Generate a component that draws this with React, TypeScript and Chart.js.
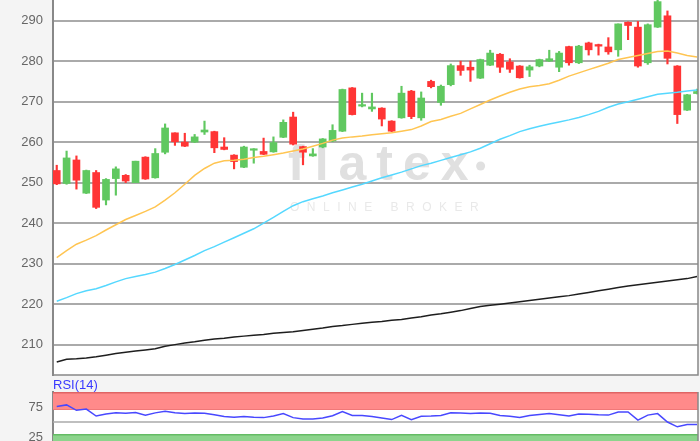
import React, { useEffect, useRef } from "react";
import { Chart, registerables } from "chart.js";

Chart.register(...registerables);

// ---- Data ----
const opens = [
  253.0, 249.8, 255.6, 247.4, 252.5, 245.7, 251.0, 251.8, 250.0, 256.3,
  251.2, 257.5, 262.3, 260.0, 260.0, 262.5, 262.6, 258.8, 256.8, 253.8,
  258.0, 257.7, 257.6, 261.2, 266.2, 258.9, 256.6, 258.8, 260.3, 262.7,
  273.4, 268.9, 268.2, 268.4, 265.2, 266.0, 272.6, 266.0, 275.0, 269.8,
  274.2, 278.9, 278.5, 275.8, 279.0, 281.7, 279.8, 278.8, 277.8, 278.8,
  280.0, 278.5, 283.6, 279.6, 284.5, 284.1, 283.5, 282.8, 289.6, 288.4,
  279.6, 288.4, 291.2, 278.8, 267.9, 272.0,
];
const highs = [
  254.3, 257.8, 256.6, 253.1, 253.0, 251.0, 253.9, 252.0, 255.3, 256.4,
  258.4, 264.5, 262.3, 262.2, 261.9, 265.2, 262.7, 261.1, 256.9, 259.0,
  258.4, 261.0, 261.3, 265.5, 267.4, 259.0, 258.4, 260.9, 264.3, 273.1,
  273.5, 272.1, 272.1, 268.5, 265.3, 273.8, 272.8, 272.4, 275.3, 274.1,
  279.3, 280.0, 280.0, 280.5, 282.7, 281.9, 280.6, 278.9, 279.0, 280.5,
  282.7, 282.4, 283.7, 283.9, 284.7, 284.2, 285.8, 289.2, 289.7, 289.8,
  289.2, 296.0, 292.4, 278.9, 271.8, 273.1,
];
const lows = [
  249.5, 249.6, 248.4, 247.3, 243.6, 244.5, 246.9, 250.0, 250.0, 250.8,
  251.1, 257.1, 259.2, 258.9, 259.9, 261.9, 257.4, 258.1, 253.4, 253.7,
  254.8, 256.9, 257.5, 261.1, 259.3, 254.4, 256.5, 258.6, 260.1, 262.6,
  266.7, 268.7, 267.6, 264.0, 262.6, 265.9, 265.8, 265.4, 273.4, 269.1,
  273.9, 276.5, 275.0, 275.7, 278.9, 277.2, 277.2, 275.8, 276.2, 278.6,
  279.9, 277.4, 279.0, 279.4, 281.5, 281.5, 281.7, 281.2, 285.3, 278.5,
  279.2, 288.3, 279.3, 264.6, 267.8, 271.9,
];
const closes = [
  249.7, 256.1, 250.6, 253.0, 243.9, 250.8, 253.4, 250.4, 255.3, 250.9,
  257.2, 263.5, 260.1, 259.0, 261.3, 263.0, 258.6, 258.2, 255.2, 258.8,
  258.3, 257.0, 259.9, 264.9, 259.5, 257.5, 257.1, 260.8, 262.9, 273.0,
  266.8, 269.2, 268.7, 265.7, 262.7, 272.1, 266.3, 270.9, 273.7, 273.8,
  278.9, 277.7, 277.8, 280.4, 282.0, 278.5, 278.0, 275.9, 278.6, 280.4,
  280.6, 282.0, 279.6, 283.7, 282.8, 283.7, 282.3, 289.2, 288.8, 278.8,
  289.0, 294.7, 280.7, 266.8, 271.7, 272.5,
];
const maShort = [
  231.5, 233.2, 234.8, 235.8, 236.9, 238.3, 239.6, 240.9, 241.9, 242.9,
  244.0, 245.7, 247.5, 249.6, 251.8, 253.5, 254.8, 255.4, 255.5, 255.8,
  256.2, 256.5, 256.9, 257.3, 257.8, 258.3, 259.0, 259.7, 260.5, 261.0,
  261.3, 261.5, 261.8, 262.1, 262.3, 262.7, 263.1, 264.0, 265.1, 265.6,
  266.4, 267.1, 268.2, 269.3, 270.4, 271.4, 272.3, 273.1, 273.7, 274.0,
  274.4, 275.3, 276.3, 277.1, 277.9, 278.7, 279.5, 280.4, 280.9, 281.4,
  281.9, 282.4, 282.5, 282.0, 281.4, 281.0,
];
const maMid = [
  220.7, 221.6, 222.6, 223.3, 223.8, 224.6, 225.5, 226.3, 226.8, 227.3,
  227.9, 228.8, 229.8, 230.9, 232.0, 233.2, 234.2, 235.3, 236.4, 237.5,
  238.6, 240.0, 241.4, 242.9, 244.3, 245.3, 246.0, 246.7, 247.5, 248.2,
  248.9, 249.6, 250.4, 251.2, 251.9, 252.6, 253.4, 254.2, 254.8, 255.5,
  256.2, 256.9, 257.6, 258.5, 259.6, 260.7, 261.6, 262.6, 263.3, 263.9,
  264.5, 265.0, 265.5, 266.1, 266.8, 267.6, 268.6, 269.4, 270.0, 270.6,
  271.2, 271.8, 272.1, 272.3, 272.6, 272.9,
];
const maLong = [
  205.7, 206.4, 206.5, 206.7, 207.0, 207.4, 207.8, 208.1, 208.4, 208.7,
  209.0, 209.6, 210.0, 210.4, 210.7, 211.1, 211.4, 211.6, 211.9, 212.1,
  212.3, 212.5, 212.8, 213.0, 213.2, 213.5, 213.8, 214.1, 214.5, 214.7,
  215.0, 215.3, 215.5, 215.7, 216.0, 216.2, 216.6, 216.9, 217.3, 217.6,
  218.0, 218.4, 218.9, 219.4, 219.7, 220.0, 220.3, 220.6, 220.9, 221.2,
  221.5, 221.8, 222.1, 222.5, 222.9, 223.3, 223.7, 224.1, 224.5, 224.8,
  225.1, 225.4, 225.7, 226.0, 226.3, 226.8,
];
const rsi = [
  76, 78.5, 69.5, 71.5, 60, 63.5, 65.5, 64.5, 65.8, 61.2,
  65.2, 67.8, 65.3, 64.2, 65, 64.5, 62, 59, 58, 59.3,
  58, 57.3, 60, 64, 57.3, 55, 55, 56.5, 60.5, 67.5,
  61, 61, 59, 56.5, 54, 61, 54, 59.5, 60, 61,
  65.5, 65, 64, 65, 64.5, 61, 59.5, 57.5, 61, 62.5,
  64, 62, 60, 63.5, 63, 62, 61.5, 66.7, 66.7, 53,
  61.5, 64, 50, 42, 45.7, 45.7,
];
const priceTicks = [210, 220, 230, 240, 250, 260, 270, 280, 290];
const rsiTicks = [25, 75];
const rsiLabel = "RSI(14)";

const GREEN = "#60c860";
const RED = "#ff3535";
const FONT = '"Liberation Sans", Arial, sans-serif';
const X_MIN = -0.38;
const X_MAX = 65.1;

const idx = closes.map((_, i) => i);
const candleColors = idx.map((i) => (closes[i] >= opens[i] ? GREEN : RED));

const bgPlugin = {
  id: "bgPlugin",
  beforeDraw(chart: any) {
    const { ctx, chartArea: a, width, height } = chart;
    ctx.save();
    ctx.fillStyle = "#f4f4f4";
    ctx.fillRect(0, 0, width, height);
    ctx.fillStyle = "#ffffff";
    ctx.fillRect(a.left, a.top, a.right - a.left, a.bottom - a.top);
    ctx.restore();
  },
};

function drawSpaced(ctx: CanvasRenderingContext2D, text: string, x: number, y: number, spacing: number) {
  let cx = x;
  for (const ch of text) {
    ctx.fillText(ch, cx, y);
    cx += ctx.measureText(ch).width + spacing;
  }
  return cx;
}

const watermarkPlugin = {
  id: "watermark",
  beforeDatasetsDraw(chart: any) {
    const { ctx } = chart;
    ctx.save();
    ctx.textBaseline = "alphabetic";
    ctx.fillStyle = "#e0e0e0";
    ctx.font = `bold 50px ${FONT}`;
    const end = drawSpaced(ctx, "flatex", 288, 180, 10);
    ctx.beginPath();
    ctx.arc(end + 2, 166, 4.5, 0, Math.PI * 2);
    ctx.fill();
    ctx.fillStyle = "#e9e9e9";
    ctx.font = `12px ${FONT}`;
    drawSpaced(ctx, "ONLINE BROKER", 290, 211, 7.5);
    ctx.restore();
  },
};

const framePlugin = {
  id: "frame",
  afterDraw(chart: any) {
    const { ctx, chartArea: a } = chart;
    ctx.save();
    ctx.strokeStyle = "#888888";
    ctx.lineWidth = 1.5;
    ctx.beginPath();
    ctx.moveTo(a.left, a.bottom);
    ctx.lineTo(a.right, a.bottom);
    ctx.lineTo(a.right, a.top);
    ctx.stroke();
    ctx.restore();
  },
};

const rsiBandsPlugin = {
  id: "rsiBands",
  beforeDatasetsDraw(chart: any) {
    const { ctx, chartArea: a, scales } = chart;
    const y = scales.y;
    const w = a.right - a.left;
    ctx.save();
    ctx.fillStyle = "#ff8a8a";
    ctx.fillRect(a.left, y.getPixelForValue(100), w, y.getPixelForValue(70) - y.getPixelForValue(100));
    ctx.fillStyle = "#e06464";
    ctx.fillRect(a.left, y.getPixelForValue(100), w, 1.5);
    ctx.fillStyle = "#f07878";
    ctx.fillRect(a.left, y.getPixelForValue(70) - 1, w, 1);
    ctx.fillStyle = "#8cd48c";
    ctx.fillRect(a.left, y.getPixelForValue(30), w, y.getPixelForValue(0) - y.getPixelForValue(30));
    ctx.fillStyle = "#64bc64";
    ctx.fillRect(a.left, y.getPixelForValue(30), w, 1.5);
    ctx.fillStyle = "#aaaaaa";
    ctx.fillRect(a.left, y.getPixelForValue(50) - 0.75, w, 1.5);
    ctx.restore();
  },
};

export default function App() {
  const mainRef = useRef<HTMLCanvasElement>(null);
  const rsiRef = useRef<HTMLCanvasElement>(null);

  useEffect(() => {
    document.body.style.margin = "0";
    document.body.style.overflow = "hidden";

    const main = new Chart(mainRef.current as HTMLCanvasElement, {
      type: "bar",
      data: {
        datasets: [
          {
            type: "line",
            data: idx.map((i) => ({ x: i, y: maLong[i] })),
            borderColor: "#1e1e1e",
            borderWidth: 1.5,
            pointRadius: 0,
            order: 0,
          } as any,
          {
            type: "line",
            data: idx.map((i) => ({ x: i, y: maMid[i] })),
            borderColor: "#55d8ff",
            borderWidth: 1.5,
            pointRadius: 0,
            order: 0,
          } as any,
          {
            type: "line",
            data: idx.map((i) => ({ x: i, y: maShort[i] })),
            borderColor: "#ffc552",
            borderWidth: 1.5,
            pointRadius: 0,
            order: 0,
          } as any,
          {
            type: "bar",
            data: idx.map((i) => ({ x: i, y: [lows[i], highs[i]] })),
            backgroundColor: candleColors,
            barThickness: 1.5,
            grouped: false,
            borderWidth: 0,
            order: 2,
          } as any,
          {
            type: "bar",
            data: idx.map((i) => ({ x: i, y: [opens[i], closes[i]] })),
            backgroundColor: candleColors,
            barThickness: 7,
            minBarLength: 1.5,
            grouped: false,
            borderWidth: 0,
            order: 1,
          } as any,
        ],
      },
      options: {
        responsive: false,
        animation: false,
        devicePixelRatio: 1,
        layout: { padding: { top: 0, right: 2, bottom: 1, left: 0 } },
        plugins: { legend: { display: false }, tooltip: { enabled: false } },
        scales: {
          x: { type: "linear", min: X_MIN, max: X_MAX, offset: false, display: false },
          y: {
            type: "linear",
            min: 202.5,
            max: 295.1,
            afterBuildTicks: (s: any) => {
              s.ticks = priceTicks.map((v) => ({ value: v }));
            },
            afterFit: (s: any) => {
              s.width = 53;
              s.paddingTop = 0;
              s.paddingBottom = 0;
            },
            grid: { color: "#aaaaaa", lineWidth: 2, drawTicks: false },
            border: { display: true, color: "#888888", width: 2 },
            ticks: { color: "#666666", font: { family: FONT, size: 13 }, padding: 10 },
          },
        },
      } as any,
      plugins: [bgPlugin, watermarkPlugin, framePlugin],
    });

    const rsiChart = new Chart(rsiRef.current as HTMLCanvasElement, {
      type: "line",
      data: {
        datasets: [
          {
            data: idx.map((i) => ({ x: i, y: rsi[i] })),
            borderColor: "#4848ff",
            borderWidth: 1.5,
            pointRadius: 0,
          },
        ],
      },
      options: {
        responsive: false,
        animation: false,
        devicePixelRatio: 1,
        layout: { padding: { top: 16, right: 2, bottom: 0, left: 0 } },
        plugins: { legend: { display: false }, tooltip: { enabled: false } },
        scales: {
          x: { type: "linear", min: X_MIN, max: X_MAX, offset: false, display: false },
          y: {
            type: "linear",
            min: 0,
            max: 100,
            afterBuildTicks: (s: any) => {
              s.ticks = rsiTicks.map((v) => ({ value: v }));
            },
            afterFit: (s: any) => {
              s.width = 53;
              s.paddingTop = 0;
              s.paddingBottom = 0;
            },
            grid: { display: false, drawTicks: false },
            border: { display: true, color: "#888888", width: 2 },
            ticks: { color: "#666666", font: { family: FONT, size: 13 }, padding: 10 },
          },
        },
      } as any,
      plugins: [bgPlugin, framePlugin, rsiBandsPlugin],
    });

    return () => {
      main.destroy();
      rsiChart.destroy();
    };
  }, []);

  return (
    <div
      style={{
        position: "fixed",
        left: 0,
        top: 0,
        width: 700,
        height: 441,
        overflow: "hidden",
        background: "#f4f4f4",
      }}
    >
      <canvas ref={mainRef} width={700} height={376} style={{ position: "absolute", left: 0, top: 0, display: "block" }} />
      <canvas ref={rsiRef} width={700} height={76} style={{ position: "absolute", left: 0, top: 376, display: "block" }} />
      <div
        style={{
          position: "absolute",
          left: 53,
          top: 377,
          font: `13px ${FONT}`,
          lineHeight: "15px",
          color: "#3a3aff",
          whiteSpace: "nowrap",
        }}
      >
        {rsiLabel}
      </div>
    </div>
  );
}
